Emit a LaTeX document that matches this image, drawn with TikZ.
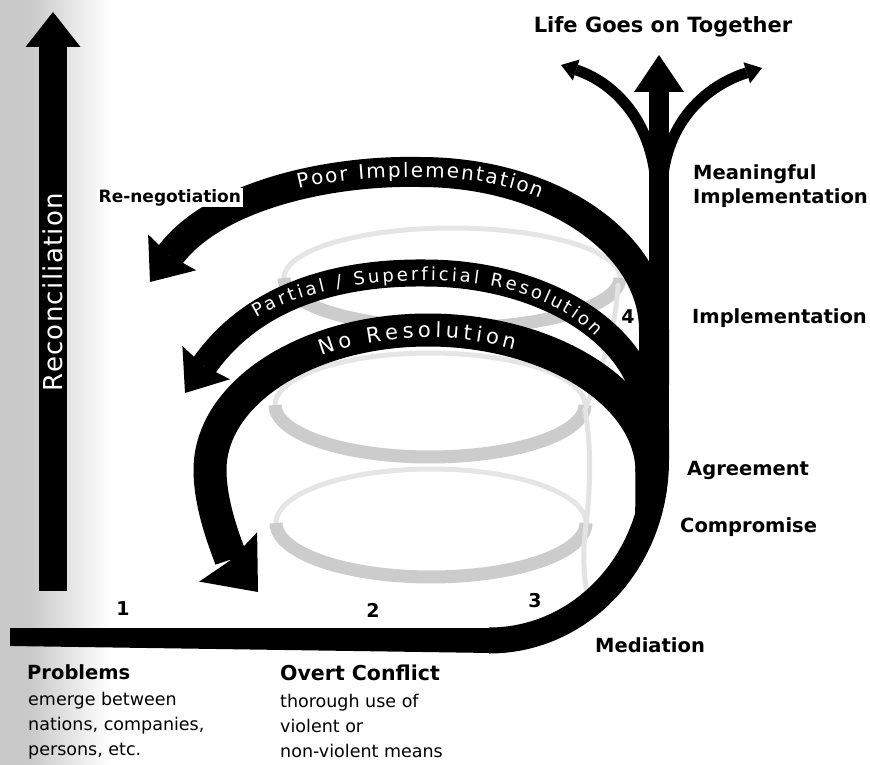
\documentclass[tikz,border=0pt]{standalone}
\usepackage{fontspec}
\setmainfont{DejaVu Sans}
\newfontfamily\recfont[LetterSpace=5]{DejaVu Sans}
\usetikzlibrary{arrows.meta,decorations.text}
\tikzset{
  blk/.style={draw=black, line cap=butt, line join=round},
  lbl/.style={font=\bfseries\fontsize{19.5}{24}\selectfont, anchor=base west, inner sep=0pt, align=left},
  desc/.style={font=\fontsize{17.5}{25}\selectfont, anchor=base west, inner sep=0pt, align=left},
  num/.style={font=\bfseries\fontsize{19}{19}\selectfont, anchor=base, inner sep=0pt},
  ringback/.style={draw=gray!20, line width=5pt},
  ringfront/.style={draw=gray!40, line width=13pt},
  ringlink/.style={draw=gray!22, line width=5pt, line cap=round},
}
\begin{document}
\begin{tikzpicture}[x=1pt,y=-1pt]
\useasboundingbox (0,0) rectangle (870,765);
% stippled left margin
\fill[gray!42] (0,0) rectangle (30,765);
\shade[left color=gray!42, right color=white] (30,0) rectangle (110,765);

% coil rings (behind)
\draw[ringback] plot[domain=0:180,samples=60] ({452+168*cos(\x)},{278-50*sin(\x)});
\draw[ringfront] plot[domain=180:360,samples=60] ({452+168*cos(\x)},{278-50*sin(\x)});
\draw[ringback] plot[domain=0:180,samples=60] ({430+155*cos(\x)},{405-52*sin(\x)});
\draw[ringfront] plot[domain=180:360,samples=60] ({430+155*cos(\x)},{405-52*sin(\x)});
\draw[ringback] plot[domain=0:180,samples=60] ({431+155*cos(\x)},{523-54*sin(\x)});
\draw[ringfront] plot[domain=180:360,samples=60] ({431+155*cos(\x)},{523-54*sin(\x)});
\draw[ringlink] (618,285) .. controls (615,340) and (596,380) .. (585,410);
\draw[ringlink] (585,410) .. controls (592,450) and (590,490) .. (586,525);
\draw[ringlink] (586,525) .. controls (582,555) and (584,580) .. (588,598);

% Reconciliation arrow
\draw[blk, line width=28pt, -{Triangle[width=55pt,length=35pt,line width=0pt]}] (53,591) -- (53,12);
\node[rotate=90, text=white, font=\recfont\fontsize{26}{26}\selectfont, inner sep=0pt] (rec) at (53,292) {Reconciliation};

% main line: problems -> conflict -> mediation -> up
\fill[black] (10,628) -- (491,628) -- (491,653) -- (10,646) -- cycle;
\draw[blk, line width=26pt] (489,640.5) .. controls (582,640.5) and (656,560) .. (656,460) -- (656,430);
\fill[black] (635.5,466) -- (635.2,514) -- (652,514) -- (652,466) -- cycle;
\draw[blk, line width=20pt, -{Triangle[width=50pt,length=37pt,line width=0pt]}] (659,470) -- (659,55);
\draw[blk, line width=11pt, -{Triangle[width=22pt,length=16pt,line width=0pt]}] (656,185) .. controls (652,120) and (613,82) .. (561,65);
\draw[blk, line width=11pt, -{Triangle[width=22pt,length=16pt,line width=0pt]}] (662,185) .. controls (666,120) and (708,85) .. (762,68);

% Poor implementation
\draw[blk, line width=30pt, -{Stealth[width=60pt,length=37pt,inset=4pt,line width=0pt]}]
  (654,385) -- (654,330) .. controls (654,242.7) and (549.8,172) .. (420,172)
  .. controls (330,170) and (215,195) .. (150,282);
% Partial / superficial resolution
\draw[blk, line width=27pt, -{Stealth[width=58pt,length=37pt,inset=4pt,line width=0pt]}]
  (648,440) -- (648,420) .. controls (648,338.8) and (547.6,273) .. (425,273)
  .. controls (330,272) and (250,300) .. (185,393);
% No resolution
\draw[blk, line width=33pt, -{Stealth[width=76pt,length=46pt,inset=4pt,line width=0pt]}]
  (652,472) .. controls (652,392.7) and (548.4,330) .. (428,330)
  .. controls (307.6,330) and (210,392.7) .. (210,470)
  .. controls (210,515) and (235,565) .. (258,592);

% texts along the arcs
\path[decorate, decoration={text along path, text color=white, text align=fit to path, raise=-7.2pt,
  text={|\fontsize{20}{20}\selectfont|Poor Implementation}}]
  (297,182) .. controls (340,171) and (380,170) .. (420,170) .. controls (470,170) and (510,178) .. (543,192);
\path[decorate, decoration={text along path, text color=white, text align=fit to path, raise=-6.5pt,
  text={|\fontsize{18}{18}\selectfont|Partial / Superficial Resolution}}]
  (253,312) .. controls (300,284) and (370,274) .. (425,274) .. controls (500,274) and (560,292) .. (600,332);
\path[decorate, decoration={text along path, text color=white, text align=fit to path, raise=-7.6pt,
  text={|\fontsize{21}{21}\selectfont|No Resolution}}]
  plot[domain=120:66,samples=40] ({428+218*cos(\x)},{470-140*sin(\x)});

% labels
\node[fill=white, inner sep=1.5pt, anchor=base west, font=\bfseries\fontsize{17}{17}\selectfont] (reneg) at (97,202) {Re-negotiation};
\node[font=\bfseries\fontsize{21}{21}\selectfont, anchor=base, inner sep=0pt] (life) at (663,33) {Life Goes on Together};
\node[lbl] (mimp) at (693,203) {Meaningful\\Implementation};
\node[lbl] (imp) at (692,323) {Implementation};
\node[lbl] (agr) at (687,475) {Agreement};
\node[lbl] (comp) at (680,532) {Compromise};
\node[lbl] (med) at (595,652) {Mediation};
\node[num] (n1) at (123,615) {1};
\node[num] (n2) at (373,617) {2};
\node[num] (n3) at (535,607) {3};
\node[num] (n4) at (628,323) {4};
\node[lbl] (prob) at (27,679) {Problems};
\node[desc] (probd) at (28,755.5) {emerge between\\nations, companies,\\persons, etc.};
\node[lbl, font=\bfseries\fontsize{20.5}{24}\selectfont] (overt) at (280,680) {Overt Conflict};
\node[desc] (overtd) at (280,757) {thorough use of\\violent or\\non-violent means};
\end{tikzpicture}
\end{document}
